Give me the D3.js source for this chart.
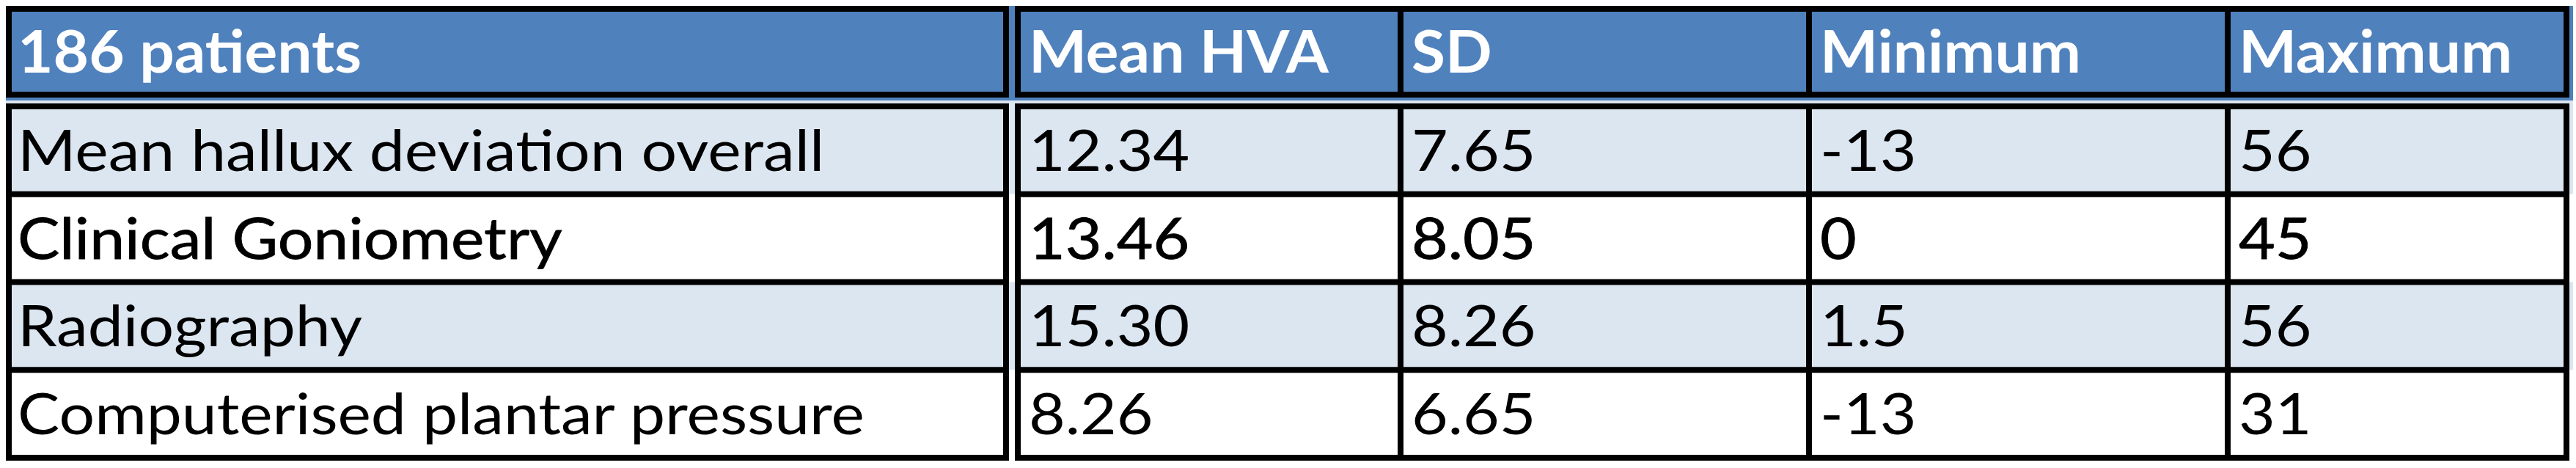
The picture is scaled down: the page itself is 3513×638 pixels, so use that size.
<!DOCTYPE html>
<html>
<head>
<meta charset="utf-8">
<script src="https://cdn.jsdelivr.net/npm/d3@7/dist/d3.min.js"></script>
<style>
  html, body { margin: 0; padding: 0; background: #fff; overflow: hidden; }
  svg { display: block; }
</style>
</head>
<body>
<svg id="chart"></svg>
<script>
// table content
const columns = ['186 patients', 'Mean HVA', 'SD', 'Minimum', 'Maximum']
const methods = [
  'Mean hallux deviation overall',
  'Clinical Goniometry',
  'Radiography',
  'Computerised plantar pressure'
]
const meanHVA = ['12.34', '13.46', '15.30', '8.26']
const sd = ['7.65', '8.05', '8.26', '6.65']
const minimum = ['-13', '0', '1.5', '-13']
const maximum = ['56', '45', '56', '31']

// layout
const width = 3513
const height = 638
const border = 8
const left = 12            // centre of the outer left border
const colWidths = [1360, 522, 557, 571, 462]
const colGap = 16          // double line after the first column
const headerTop = 12
const headerHeight = 117
const rowGap = 16          // double line under the header
const bodyBottom = 624
const fillRight = 3509
const headBlue = '#4f81bd'
const bandLight = '#dce6f1'
const capRatio = 0.7165    // Lato cap height / em
const font = 'Lato, "Open Sans", sans-serif'
const emphasisRow = 1

const rows = methods.map((m, i) => [m, meanHVA[i], sd[i], minimum[i], maximum[i]])

const svg = d3.select('#chart')
  .attr('width', width)
  .attr('height', height)
  .attr('viewBox', `0 0 ${width} ${height}`)

// column border positions (centre of each black line)
const colLines = []
let cx = left
colWidths.forEach((w, i) => {
  colLines.push(cx)
  cx += w
  if (i === 0) { colLines.push(cx); cx += colGap }
})
colLines.push(cx)
const colLeft = [colLines[0], colLines[2], colLines[3], colLines[4], colLines[5]]

const headerBottom = headerTop + headerHeight
const bodyTop = headerBottom + rowGap

const y = d3.scaleBand()
  .domain(d3.range(rows.length))
  .range([bodyTop, bodyBottom])
  .paddingInner(0)
  .paddingOuter(0)

// size by cap height, squeeze to the reference width
const headSize = 57 / capRatio
const bodySize = 56 / capRatio
function squeeze(text, weight, size, target) {
  const t = svg.append('text')
    .attr('font-family', font)
    .attr('font-weight', weight)
    .attr('font-size', size)
    .text(text)
  const w = t.node().getComputedTextLength()
  t.remove()
  return target / w
}
const headSx = squeeze(columns[0], 'bold', headSize, 469)
const bodySx = squeeze(methods[0], 'normal', bodySize, 1100)

// row backgrounds
svg.append('rect')
  .attr('x', left - border / 2)
  .attr('y', headerTop - border / 2)
  .attr('width', fillRight - (left - border / 2))
  .attr('height', headerHeight + rowGap / 2 + border / 2)
  .attr('fill', headBlue)

svg.selectAll('rect.band')
  .data(rows)
  .join('rect')
  .attr('class', 'band')
  .attr('x', left - border / 2)
  .attr('y', (_, i) => (i === 0 ? headerBottom + rowGap / 2 : y(i)))
  .attr('width', fillRight - (left - border / 2))
  .attr('height', (_, i) => (i === 0 ? y(1) - headerBottom - rowGap / 2 : y.bandwidth() + (i === rows.length - 1 ? border / 2 : 0)))
  .attr('fill', (_, i) => (i % 2 === 0 ? bandLight : '#ffffff'))

// black grid
const blocks = [
  [colLines[0] - border / 2, colLines[1] + border / 2],
  [colLines[2] - border / 2, colLines[colLines.length - 1] + border / 2]
]
const hLines = [headerTop, headerBottom, ...y.domain().map((i) => y(i)), bodyBottom]

const grid = svg.append('g')
  .attr('stroke', '#000')
  .attr('stroke-width', border)
  .attr('stroke-linecap', 'butt')

hLines.forEach((hy) => {
  blocks.forEach(([x1, x2]) => {
    grid.append('line').attr('x1', x1).attr('x2', x2).attr('y1', hy).attr('y2', hy)
  })
})

colLines.forEach((lx) => {
  grid.append('line')
    .attr('x1', lx).attr('x2', lx)
    .attr('y1', headerTop - border / 2).attr('y2', headerBottom + border / 2)
  grid.append('line')
    .attr('x1', lx).attr('x2', lx)
    .attr('y1', bodyTop - border / 2).attr('y2', bodyBottom + border / 2)
})

// text padding inside each cell
const pad = (j) => (j === 0 ? 8 : 11)
const textX = (j) => colLeft[j] + border / 2 + pad(j)

// header
const headY = (headerTop + headerBottom) / 2 + capRatio * headSize / 2
svg.append('g')
  .selectAll('text')
  .data(columns)
  .join('text')
  .attr('transform', (_, j) => `translate(${textX(j)}, ${headY}) scale(${headSx}, 1)`)
  .attr('font-family', font)
  .attr('font-weight', 'bold')
  .attr('font-size', headSize)
  .attr('fill', '#fff')
  .text((d) => d)

// body
const rowG = svg.append('g')
  .selectAll('g')
  .data(rows)
  .join('g')
  .attr('transform', (_, i) => `translate(0, ${y(i) + y.bandwidth() / 2 + capRatio * bodySize / 2})`)

rowG.selectAll('text')
  .data((d, i) => d.map((v) => ({ v, i })))
  .join('text')
  .attr('transform', (_, j) => `translate(${textX(j)}, 0) scale(${bodySx}, 1)`)
  .attr('font-family', font)
  .attr('font-size', bodySize)
  .attr('fill', '#000')
  .attr('stroke', (d) => (d.i === emphasisRow ? '#000' : 'none'))
  .attr('stroke-width', 0.8)
  .text((d) => d.v)
</script>
</body>
</html>
